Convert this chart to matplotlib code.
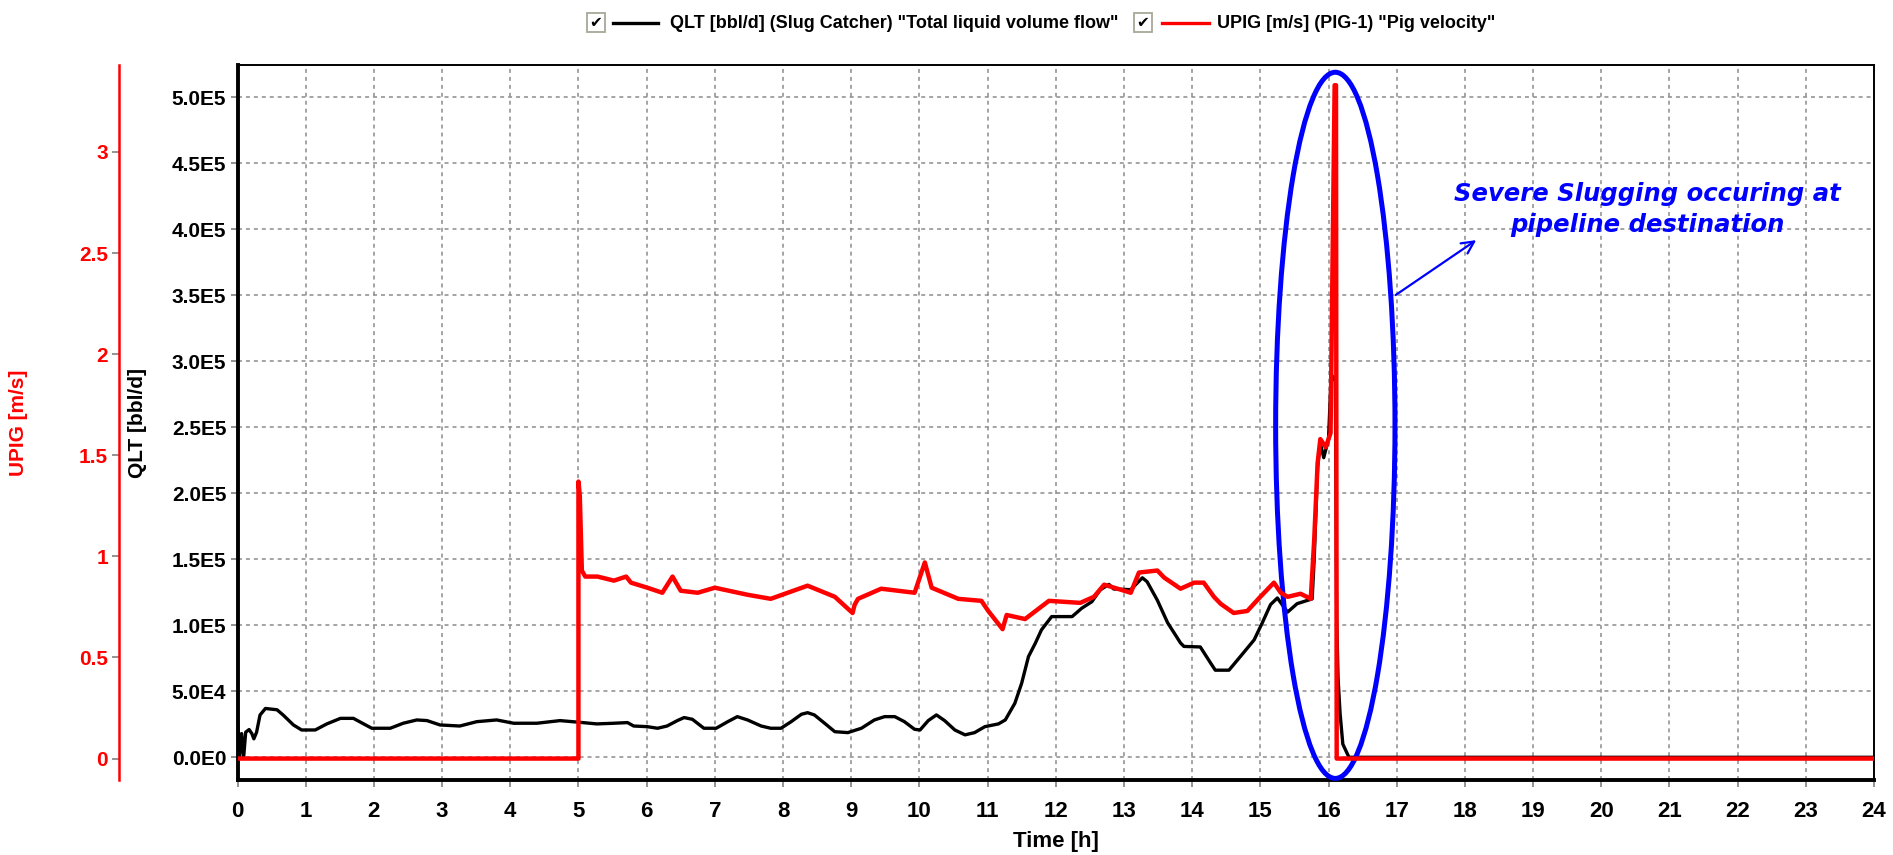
import matplotlib
matplotlib.use('Agg')
import matplotlib.pyplot as plt
from matplotlib.patches import Ellipse, Rectangle
from matplotlib.lines import Line2D

NARROW = ['Liberation Sans Narrow', 'Liberation Sans', 'DejaVu Sans']
W, H = 1893, 855

# QLT [bbl/d] at the slug catcher
t_qlt = [0.0, 0.03, 0.06, 0.09, 0.12, 0.17, 0.21, 0.24, 0.28, 0.33, 0.41, 0.58, 0.67,
         0.82, 0.94, 1.14, 1.31, 1.51, 1.70, 1.85, 1.97, 2.24, 2.43, 2.63, 2.78, 2.97,
         3.26, 3.51, 3.80, 4.05, 4.39, 4.73, 5.02, 5.27, 5.52, 5.72, 5.81, 6.01, 6.16,
         6.30, 6.45, 6.55, 6.67, 6.84, 7.02, 7.19, 7.33, 7.48, 7.68, 7.82, 7.97, 8.12,
         8.27, 8.36, 8.46, 8.61, 8.76, 8.95, 9.15, 9.34, 9.49, 9.64, 9.78, 9.93, 10.01,
         10.13, 10.25, 10.37, 10.52, 10.67, 10.81, 10.96, 11.16, 11.26, 11.40, 11.50,
         11.60, 11.70, 11.79, 11.94, 12.24, 12.38, 12.53, 12.65, 12.78, 12.85, 13.10,
         13.27, 13.34, 13.49, 13.64, 13.83, 13.88, 14.12, 14.27, 14.34, 14.54, 14.71,
         14.91, 15.03, 15.15, 15.25, 15.40, 15.54, 15.76, 15.79, 15.84, 15.88, 15.93,
         16.0, 16.04, 16.1, 16.12, 16.14, 16.17, 16.21, 16.3, 24.0]
qlt = [27000, 500, 18000, 0, 19000, 21000, 18000, 14000, 19000, 32000, 37000, 36000, 32000,
       24500, 20700, 20700, 25300, 29500, 29500, 25300, 22000, 22000, 25800, 28300, 27800, 24500,
       23700, 27000, 28300, 25800, 25800, 27800, 26500, 25300, 25800, 26300, 23700, 23200, 22000,
       23700, 27800, 30100, 28800, 22000, 22000, 27000, 30800, 28300, 23700, 22000, 22000, 27000,
       32600, 33800, 32100, 25800, 19400, 18700, 22000, 28300, 30800, 30800, 27000, 21200, 20700,
       27800, 32100, 27800, 20700, 17000, 18700, 23200, 25300, 28300, 40900, 56100,
       76300, 86400, 96500, 106600, 106600, 112900, 117900, 126800, 131000, 127500, 127000,
       136000, 133000, 119000, 102000, 86600, 84000, 83600, 71500, 66000, 66000, 76500,
       89000, 102000, 115700, 120700, 110000, 116400, 120000, 150000, 220000, 238000, 227000,
       241000, 290000, 285000, 105000, 60000, 33000, 10000, 0, 0]

# UPIG [m/s] of PIG-1
t_upig = [0.04, 5.0, 5.0, 5.02, 5.05, 5.1, 5.28, 5.52, 5.7, 5.77, 6.01, 6.23, 6.38, 6.5,
          6.75, 7.0, 7.48, 7.82, 8.36, 8.76, 9.02, 9.05, 9.1, 9.44, 9.93, 10.08, 10.18,
          10.57, 10.91, 11.01, 11.22, 11.28, 11.55, 11.9, 12.36, 12.56, 12.71, 13.1, 13.22,
          13.49, 13.59, 13.83, 14.03, 14.17, 14.32, 14.42, 14.61, 14.81, 15.0, 15.2, 15.3,
          15.4, 15.59, 15.74, 15.79, 15.84, 15.88, 15.96, 16.03, 16.04, 16.06, 16.09, 16.11,
          16.12, 24.0]
upig = [0.0, 0.0, 1.37, 1.30, 0.93, 0.90, 0.90, 0.88, 0.90, 0.87, 0.845, 0.82, 0.90, 0.83,
        0.82, 0.845, 0.81, 0.79, 0.855, 0.80, 0.72, 0.76, 0.79, 0.84, 0.82, 0.97, 0.845,
        0.79, 0.78, 0.73, 0.64, 0.71, 0.69, 0.78, 0.77, 0.80, 0.86, 0.82, 0.92,
        0.93, 0.895, 0.84, 0.87, 0.87, 0.80, 0.765, 0.72, 0.73, 0.80, 0.87, 0.82,
        0.80, 0.815, 0.79, 1.08, 1.46, 1.58, 1.54, 1.61, 1.89, 2.48, 3.33, 3.33,
        0.0, 0.0]

hours = list(range(25))
qlt_ticks = [0, 50000, 100000, 150000, 200000, 250000, 300000, 350000, 400000, 450000, 500000]
qlt_labels = ['0.0E0', '5.0E4', '1.0E5', '1.5E5', '2.0E5', '2.5E5', '3.0E5', '3.5E5',
              '4.0E5', '4.5E5', '5.0E5']
upig_ticks = [0, 0.5, 1, 1.5, 2, 2.5, 3]
upig_labels = ['0', '0.5', '1', '1.5', '2', '2.5', '3']


def fig_xy(x, y):
    return x / W, 1 - y / H


fig = plt.figure(figsize=(W / 100, H / 100), dpi=100)
ax = fig.add_axes([237.5 / W, 1 - 780 / H, (1874 - 237.5) / W, 715 / H])

ax.set_xlim(0, 24)
ax.set_ylim(-17200, 524500)
ax.set_xticks(hours)
ax.set_xticklabels([str(h) for h in hours], family=NARROW, fontsize=16, fontweight='bold')
ax.set_yticks(qlt_ticks)
ax.set_yticklabels(qlt_labels, family=NARROW, fontsize=15, fontweight='bold')
ax.tick_params(axis='x', length=5, width=1.2, color='#808080', pad=10)
ax.tick_params(axis='y', length=5, width=1.2, color='#808080', pad=3)
ax.grid(True, color='#8c8c8c', linestyle=(0, (2.6, 2.6)), linewidth=1.1)
for side in ['left', 'bottom']:
    ax.spines[side].set_linewidth(2.8)
for side in ['top', 'right']:
    ax.spines[side].set_linewidth(1.4)

ax.set_xlabel('Time [h]', family=NARROW, fontsize=16, fontweight='bold')
ax.xaxis.set_label_coords(0.5, -0.071)
ax.set_ylabel('QLT [bbl/d]', family='Liberation Sans', fontsize=15, fontweight='bold',
              va='center', ha='center')
ax.yaxis.set_label_coords(-0.0613, 0.5)

ax.plot(t_qlt, qlt, color='black', lw=2.4)

red = ax.twinx()
red.set_ylim(-0.106, 3.43)
red.spines['left'].set_position(('axes', -0.0723))
red.spines['left'].set_visible(True)
red.spines['left'].set_color('#ff0000')
red.spines['left'].set_linewidth(1.8)
for side in ['right', 'top', 'bottom']:
    red.spines[side].set_visible(False)
red.yaxis.set_ticks_position('left')
red.yaxis.set_label_position('left')
red.set_yticks(upig_ticks)
red.set_yticklabels(upig_labels, family=NARROW, fontsize=15, fontweight='bold', color='#ff0000')
red.tick_params(axis='y', length=5, width=1.2, color='#808080', pad=3)
red.set_ylabel('UPIG [m/s]', family='Liberation Sans', fontsize=15, fontweight='bold',
               color='#ff0000', va='center', ha='center')
red.yaxis.set_label_coords(-0.134, 0.5)

red.plot(t_upig, upig, color='#ff0000', lw=3.2)

# highlight of the slugging event
red.add_patch(Ellipse((16.1, 251500), 1.75, 535000, transform=ax.transData,
                      fill=False, edgecolor='#0000ff', lw=3.6, clip_on=False))
red.annotate('', xy=(18.2, 393000), xytext=(16.95, 349000),
             xycoords=ax.transData, textcoords=ax.transData,
             arrowprops=dict(arrowstyle='->', color='#0000ff', lw=1.6, mutation_scale=22))
red.text(20.67, 415000, 'Severe Slugging occuring at\npipeline destination',
         transform=ax.transData, ha='center', va='center', color='#0000ff',
         fontsize=17.5, fontweight='bold', fontstyle='italic', family='DejaVu Sans',
         linespacing=1.4)

# legend row across the top
legend_items = [
    (587, 613, 658, 670, 'black', 'QLT [bbl/d] (Slug Catcher) "Total liquid volume flow"'),
    (1134, 1162, 1209, 1217, '#ff0000', 'UPIG [m/s] (PIG-1) "Pig velocity"'),
]
for box_x, l0, l1, tx, col, label in legend_items:
    bx, by = fig_xy(box_x, 32)
    fig.add_artist(Rectangle((bx, by), 18 / W, 19 / H, transform=fig.transFigure,
                             facecolor='white', edgecolor='#a8a898', lw=1.3))
    cx, cy = fig_xy(box_x + 9, 23)
    fig.text(cx, cy, '\u2714', ha='center', va='center', fontsize=11,
             family='DejaVu Sans', color='black')
    x0, y0 = fig_xy(l0, 23)
    x1, _ = fig_xy(l1, 23)
    fig.add_artist(Line2D([x0, x1], [y0, y0], transform=fig.transFigure, color=col, lw=2.4))
    ttx, tty = fig_xy(tx, 23)
    fig.text(ttx, tty, label, ha='left', va='center', family=NARROW, fontsize=13,
             fontweight='bold', color='black')

fig.savefig('out.png', dpi=100)
